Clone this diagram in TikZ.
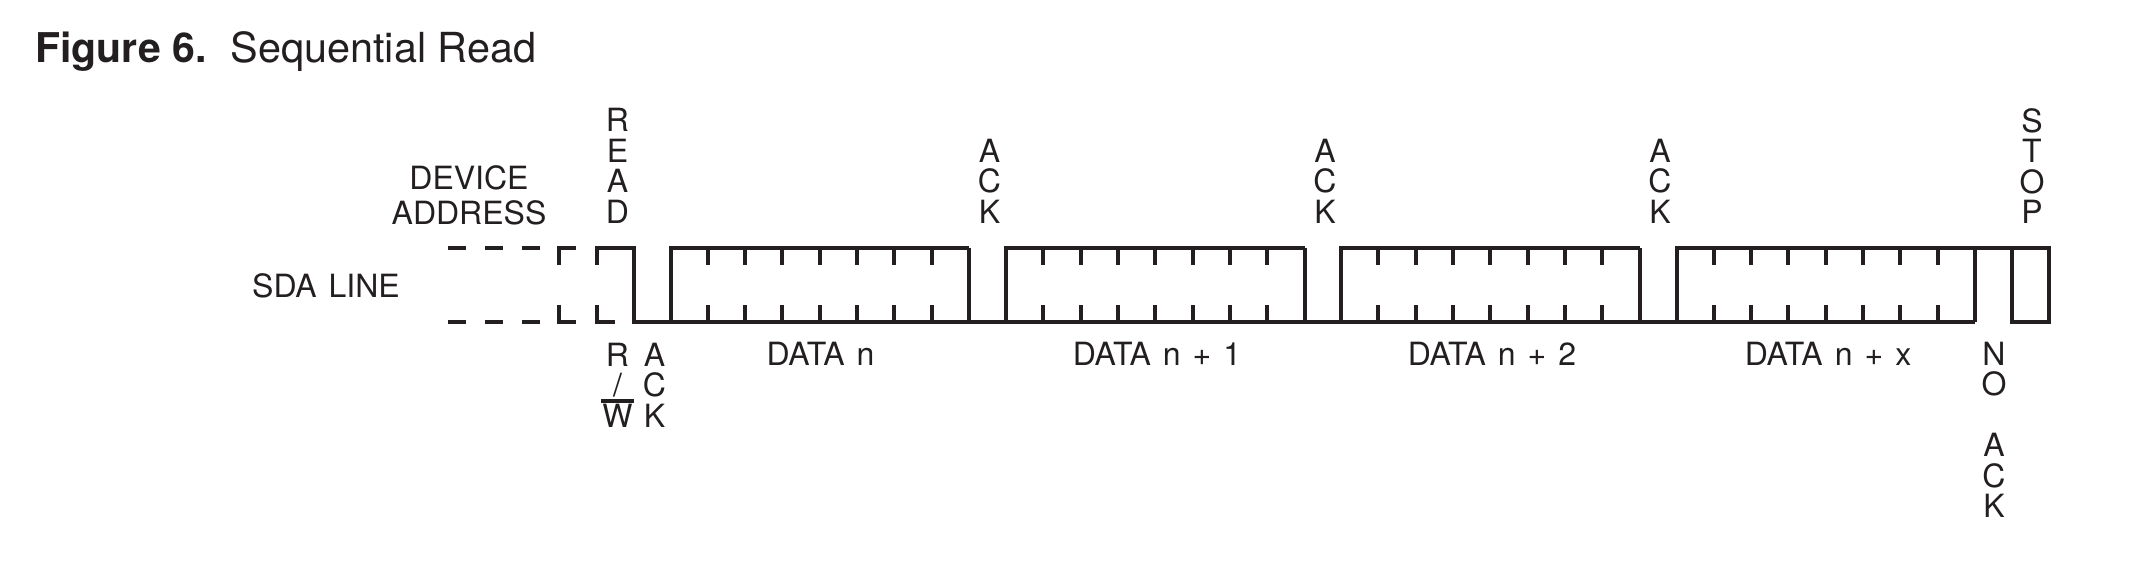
\documentclass[tikz,border=0pt]{standalone}
\usepackage{fontspec}
\setmainfont{TeX Gyre Heros}
\usepackage{xcolor}
\usetikzlibrary{positioning}
\definecolor{inkblack}{RGB}{35, 31, 32}

\tikzset{
  sigline/.style={draw=inkblack, line width=2pt},
  lbl/.style={inner sep=0pt, text=inkblack, font=\fontsize{16}{17.5}\selectfont, align=center, execute at begin node={\spaceskip=6pt\relax}},
  stack/.style={inner sep=0pt, text=inkblack, font=\fontsize{16}{15.25}\selectfont, align=center},
}

\begin{document}
\begin{tikzpicture}[x=0.5pt, y=-0.5pt]
\useasboundingbox (0,0) rectangle (2137,572);

\node[anchor=base west, inner sep=0pt, text=inkblack, font=\fontsize{20.5}{24}\selectfont\bfseries] (figlabel) at (35,63) {Figure 6.};
\node[anchor=base west, inner sep=0pt, text=inkblack, font=\fontsize{20.7}{24}\selectfont] (figtitle) at (230,63) {Sequential Read};

\node[lbl] (device) at (469,195) {DEVICE\\ADDRESS};
\node[lbl] (sda) at (326,286) {SDA LINE};

\node[stack] (readlbl) at (617.5,166) {R\\E\\A\\D};
\node[stack] (ackone) at (989.5,181) {A\\C\\K};
\node[stack] (acktwo) at (1325,181) {A\\C\\K};
\node[stack] (ackthree) at (1660,181) {A\\C\\K};
\node[stack] (stoplbl) at (2032,166) {S\\T\\O\\P};

\node[stack] (rwlbl) at (617.5,385) {R\\/\\\rlap{\hspace*{-0.7pt}\rule[12pt]{16.5pt}{2pt}}W};
\node[stack] (ackzero) at (654.5,385) {A\\C\\K};
\node[stack] (nolbl) at (1994,430) {N\\O\\[15.25pt]A\\C\\K};

\node[lbl] (datan) at (820.5,354) {DATA n};
\node[lbl] (dataone) at (1157,354) {DATA n + 1};
\node[lbl] (datatwo) at (1492,354) {DATA n + 2};
\node[lbl] (datax) at (1828,354) {DATA n + x};

\foreach \y in {248,322.5} {
  \foreach \x in {448,485,522} {
    \draw[sigline] (\x,\y) -- ++(18,0);
  }
}
\draw[sigline] (576,248) -- (559,248) -- (559,265);
\draw[sigline] (559,305) -- (559,322.5) -- (576,322.5);
\draw[sigline] (597,265) -- (597,248) -- (634,248) -- (634,322.5) -- (670.5,322.5);
\draw[sigline] (597,305) -- (597,322.5) -- (615,322.5);

\foreach \x in {670.5,1006,1341,1676.5} {
  \draw[sigline] (\x,322.5) -- (\x,248) -- ++(298.5,0);
  \draw[sigline] (\x,322.5) -- ++(298.5,0);
  \foreach \i in {1,...,7} {
    \draw[sigline] (\x+37.3*\i,248) -- ++(0,17);
    \draw[sigline] (\x+37.3*\i,322.5) -- ++(0,-17);
  }
}
\foreach \x in {969,1304.5,1639.5} {
  \draw[sigline] (\x,248) -- (\x,322.5) -- ++(37,0);
}
\draw[sigline] (1975,248) -- (1975,322.5);
\draw[sigline] (1975,248) -- (2012,248);
\draw[sigline] (2012,248) rectangle (2048.5,322.5);
\end{tikzpicture}
\end{document}
